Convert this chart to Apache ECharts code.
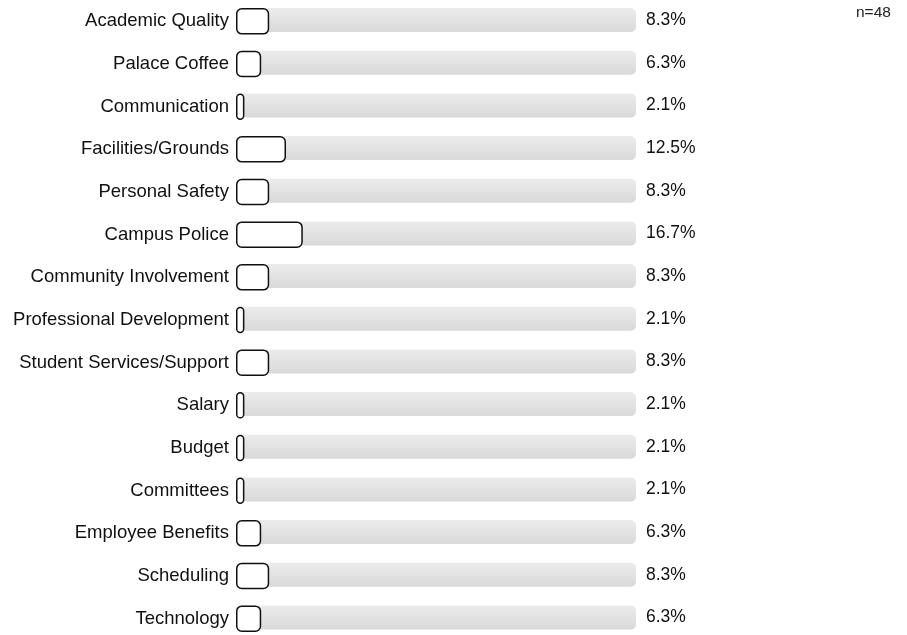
<!DOCTYPE html>
<html>
<head>
<meta charset="utf-8">
<script src="https://cdn.jsdelivr.net/npm/echarts@6/dist/echarts.min.js"></script>
<style>
  html, body { margin: 0; padding: 0; background: #fff; }
  #chart { width: 907px; height: 635px; }
</style>
</head>
<body>
<div id="chart"></div>
<script>
  const categories = [
    'Academic Quality', 'Palace Coffee', 'Communication', 'Facilities/Grounds',
    'Personal Safety', 'Campus Police', 'Community Involvement',
    'Professional Development', 'Student Services/Support', 'Salary', 'Budget',
    'Committees', 'Employee Benefits', 'Scheduling', 'Technology'
  ];
  const percents = [8.3, 6.3, 2.1, 12.5, 8.3, 16.7, 8.3, 2.1, 8.3, 2.1, 2.1, 2.1, 6.3, 8.3, 6.3];
  const fullTrack = categories.map(() => 100);
  const sampleNote = 'n=48';

  const myChart = echarts.init(document.getElementById('chart'));
  myChart.setOption({
    animation: false,
    textStyle: { fontFamily: 'Liberation Sans, Arial, sans-serif' },
    graphic: [{
      type: 'text', left: 856, top: 5,
      style: { text: sampleNote, fontSize: 15.5, fill: '#222', fontFamily: 'Liberation Sans, Arial, sans-serif' }
    }],
    grid: { left: 236, top: 0, width: 400, height: 640, containLabel: false, outerBoundsMode: 'none' },
    xAxis: { type: 'value', min: 0, max: 100, show: false },
    yAxis: {
      type: 'category', inverse: true, data: categories,
      axisLine: { show: false }, axisTick: { show: false },
      axisLabel: { fontSize: 18.5, color: '#111', margin: 7 }
    },
    series: [
      {
        type: 'bar', data: fullTrack, barWidth: 24, silent: true,
        itemStyle: {
          borderRadius: 5,
          color: new echarts.graphic.LinearGradient(0, 0, 0, 1, [
            { offset: 0, color: '#ececec' },
            { offset: 1, color: '#d9d9d9' }
          ])
        },
        label: {
          show: true, position: 'right', distance: 10, fontSize: 17.5, color: '#111',
          formatter: p => percents[p.dataIndex].toFixed(1) + '%'
        }
      },
      {
        type: 'bar', data: percents, barWidth: 26.5, barGap: '-100%',
        itemStyle: { color: '#fff', borderColor: '#111', borderWidth: 1.5, borderRadius: 5 }
      }
    ]
  });
</script>
</body>
</html>
